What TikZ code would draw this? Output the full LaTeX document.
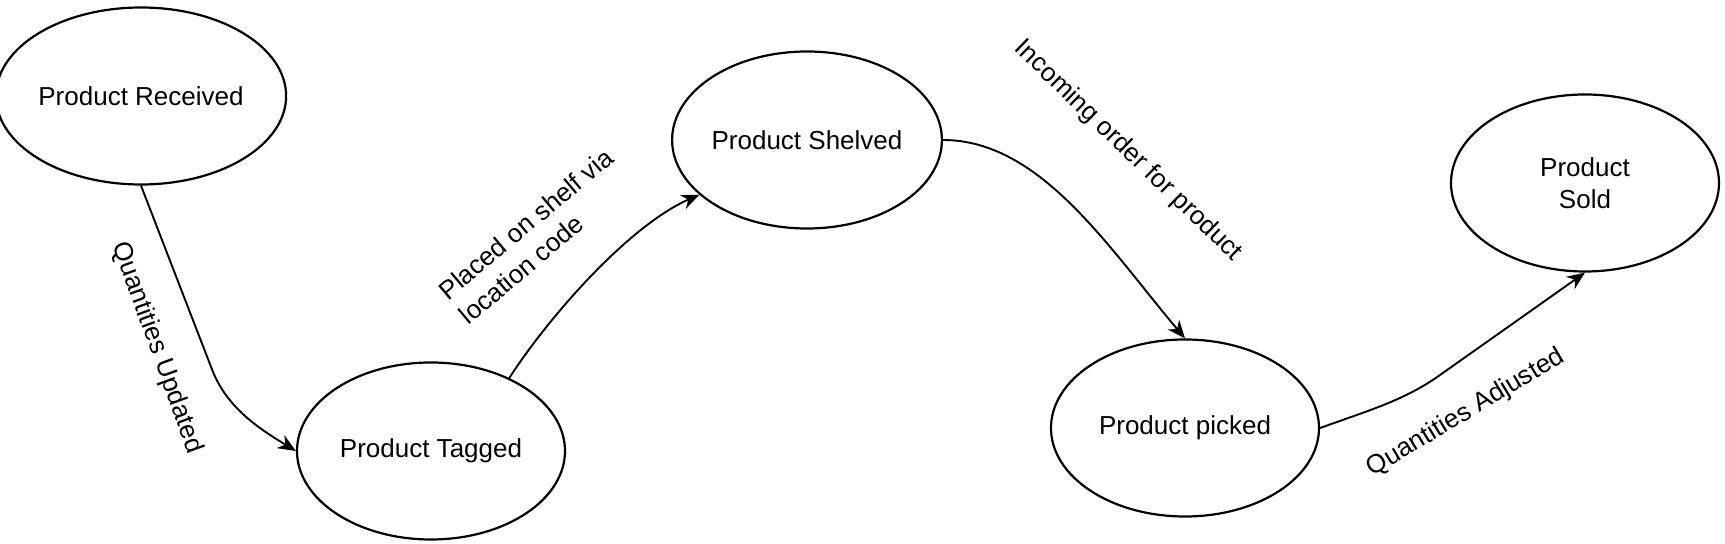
\documentclass[tikz,border=0pt]{standalone}
\usepackage{fontspec}
\setmainfont{Liberation Sans}
\usetikzlibrary{arrows.meta,shapes.geometric}

\begin{document}
\begin{tikzpicture}[x=0.5pt,y=0.5pt,yscale=-1,xscale=1,
	state/.style={draw, ellipse, line width=1.1pt, inner sep=0pt, minimum width=134pt, minimum height=88.5pt, align=center, font=\fontsize{13}{16}\selectfont},
	flow/.style={line width=0.95pt, -{Stealth[length=9pt,width=7.5pt]}},
	lbl/.style={inner sep=0.75pt, font=\fontsize{13}{16}\selectfont}]
	\useasboundingbox (0,0) rectangle (1725,544);
	
	% Ellipse Nodes
	\draw (141,96) node [state] (recv) {Product Received};
	\draw (431,451) node [state] (tagged) {Product Tagged};
	\draw (807,140) node [state] (shelved) {Product Shelved};
	\draw (1185,428) node [state] (picked) {Product picked};
	\draw (1585,183) node [state] (sold) {Product\\Sold};
	
	%Curve Lines
	\draw [flow] (recv.south) -- (213,372) .. controls (228,408) and (258,428) .. (tagged.west);
	%Curve Lines
	\draw [flow] (tagged.43) .. controls (550,315) and (630,225) .. (shelved.207);
	%Curve Lines
	\draw [flow] (shelved.east) .. controls (1040,140) and (1108,247) .. (picked.north);
	%Curve Lines
	\draw [flow] (picked.east) .. controls (1370,410) and (1405,400) .. (1440,375) -- (sold.south);
	
	% Text Node
	\draw (157,348) node [lbl, rotate=-70] (updlbl) {Quantities Updated};
	% Text Node
	\draw (536,236) node [lbl, rotate=40, align=left] (shelflbl) {Placed on shelf via\\location code};
	% Text Node
	\draw (1128,151) node [lbl, rotate=-44] (orderlbl) {Incoming order for product};
	% Text Node
	\draw (1466,413) node [lbl, rotate=31] (adjlbl) {Quantities Adjusted};
	
\end{tikzpicture}
\end{document}
